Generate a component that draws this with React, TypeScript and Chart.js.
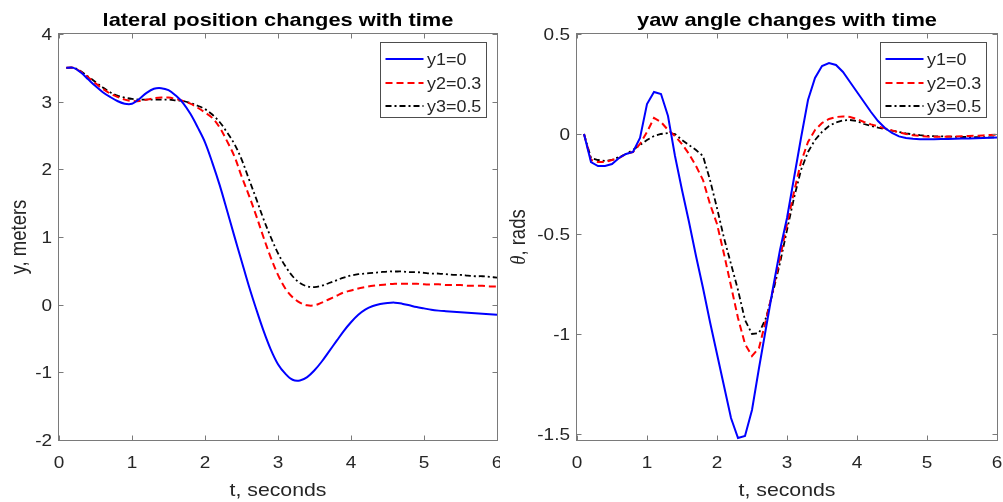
import React, { useEffect, useRef } from "react";
import { Chart, registerables } from "chart.js";

Chart.register(...registerables);

// ---------- data ----------
const timeSeconds = [
  0.1, 0.2, 0.3, 0.4, 0.5, 0.6, 0.7, 0.8, 0.9, 1.0,
  1.1, 1.2, 1.3, 1.4, 1.5, 1.6, 1.7, 1.8, 1.9, 2.0,
  2.1, 2.2, 2.3, 2.4, 2.5, 2.6, 2.7, 2.8, 2.9, 3.0,
  3.1, 3.2, 3.3, 3.4, 3.5, 3.6, 3.7, 3.8, 3.9, 4.0,
  4.1, 4.2, 4.3, 4.4, 4.5, 4.6, 4.7, 4.8, 4.9, 5.0,
  5.1, 5.2, 5.3, 5.4, 5.5, 5.6, 5.7, 5.8, 5.9, 6.0,
];

const lateralY1 = [
  3.50, 3.50, 3.43, 3.33, 3.23, 3.14, 3.07, 3.01, 2.97, 2.97,
  3.04, 3.13, 3.19, 3.20, 3.17, 3.09, 2.98, 2.82, 2.62, 2.40,
  2.10, 1.77, 1.40, 1.02, 0.65, 0.28, -0.06, -0.38, -0.66, -0.88,
  -1.02, -1.11, -1.12, -1.07, -0.97, -0.84, -0.69, -0.54, -0.39, -0.26,
  -0.15, -0.07, -0.02, 0.01, 0.025, 0.03, 0.015, -0.01, -0.035, -0.055,
  -0.075, -0.088, -0.097, -0.105, -0.112, -0.12, -0.127, -0.135, -0.142, -0.15,
];
const lateralY2 = [
  3.50, 3.50, 3.44, 3.36, 3.27, 3.19, 3.12, 3.07, 3.03, 3.01,
  3.01, 3.03, 3.05, 3.06, 3.06, 3.04, 3.01, 2.97, 2.91, 2.84,
  2.76, 2.62, 2.42, 2.20, 1.90, 1.62, 1.32, 1.00, 0.70, 0.44,
  0.24, 0.11, 0.03, -0.01, -0.01, 0.03, 0.08, 0.13, 0.18, 0.21,
  0.24, 0.26, 0.28, 0.29, 0.30, 0.31, 0.31, 0.31, 0.31, 0.30,
  0.30, 0.30, 0.29, 0.29, 0.29, 0.28, 0.28, 0.28, 0.27, 0.27,
];
const lateralY3 = [
  3.50, 3.50, 3.45, 3.37, 3.29, 3.21, 3.14, 3.09, 3.06, 3.04,
  3.03, 3.03, 3.03, 3.03, 3.03, 3.02, 3.01, 2.98, 2.94, 2.89,
  2.81, 2.70, 2.55, 2.38, 2.15, 1.86, 1.57, 1.27, 1.00, 0.76,
  0.57, 0.42, 0.32, 0.27, 0.26, 0.28, 0.32, 0.36, 0.40, 0.43,
  0.45, 0.46, 0.47, 0.48, 0.49, 0.49, 0.49, 0.48, 0.48, 0.47,
  0.46, 0.46, 0.45, 0.44, 0.44, 0.43, 0.42, 0.42, 0.41, 0.40,
];

const yawY1 = [
  0.00, -0.14, -0.16, -0.16, -0.15, -0.12, -0.10, -0.09, -0.02, 0.15,
  0.21, 0.20, 0.09, -0.11, -0.28, -0.44, -0.61, -0.77, -0.94, -1.10,
  -1.26, -1.42, -1.52, -1.51, -1.38, -1.17, -0.97, -0.77, -0.58, -0.42,
  -0.22, -0.02, 0.17, 0.28, 0.34, 0.355, 0.345, 0.31, 0.26, 0.21,
  0.16, 0.11, 0.065, 0.03, 0.005, -0.012, -0.02, -0.024, -0.026, -0.026,
  -0.026, -0.025, -0.025, -0.024, -0.023, -0.022, -0.021, -0.02, -0.019, -0.018,
];
const yawY2 = [
  0.00, -0.13, -0.14, -0.14, -0.13, -0.12, -0.10, -0.09, -0.05, 0.01,
  0.08, 0.06, 0.02, -0.01, -0.05, -0.10, -0.16, -0.23, -0.35, -0.45,
  -0.60, -0.76, -0.92, -1.05, -1.11, -1.07, -0.93, -0.78, -0.62, -0.45,
  -0.29, -0.14, -0.04, 0.02, 0.055, 0.075, 0.085, 0.088, 0.085, 0.075,
  0.06, 0.048, 0.038, 0.028, 0.018, 0.008, 0.0, -0.006, -0.01, -0.013,
  -0.014, -0.014, -0.013, -0.012, -0.011, -0.01, -0.009, -0.007, -0.005, -0.004,
];
const yawY3 = [
  0.00, -0.12, -0.13, -0.135, -0.13, -0.115, -0.10, -0.08, -0.055, -0.03,
  -0.01, 0.00, 0.005, 0.00, -0.03, -0.055, -0.08, -0.11, -0.23, -0.37,
  -0.52, -0.65, -0.78, -0.93, -1.00, -0.995, -0.92, -0.79, -0.645, -0.48,
  -0.32, -0.18, -0.09, -0.03, 0.01, 0.04, 0.058, 0.068, 0.07, 0.065,
  0.05, 0.04, 0.032, 0.025, 0.017, 0.01, 0.003, -0.002, -0.006, -0.009,
  -0.011, -0.012, -0.013, -0.014, -0.015, -0.015, -0.016, -0.016, -0.017, -0.017,
];

const seriesLabels = ["y1=0", "y2=0.3", "y3=0.5"];

// ---------- styling ----------
const SANS = '"Liberation Sans", Arial, Helvetica, sans-serif';
const SERIF = '"Liberation Serif", "Times New Roman", serif';
const SX = 1.15; // horizontal stretch of the reference text
const TEXT_COLOR = "#262626";
const AXIS_COLOR = "#7a7a7a";
const TICK_FONT = `16.5px ${SANS}`;
const LABEL_FONT = `18.5px ${SANS}`;
const TITLE_FONT = `bold 19px ${SANS}`;
const LEGEND_FONT = `15.6px ${SANS}`;

type Part = { text: string; font: string };

function drawParts(
  ctx: CanvasRenderingContext2D,
  parts: Part[],
  x: number,
  y: number,
  align: "left" | "center" | "right",
  color: string,
  rotate = false
) {
  ctx.save();
  ctx.translate(x, y);
  if (rotate) {
    ctx.rotate(-Math.PI / 2);
    ctx.scale(1, SX);
  } else {
    ctx.scale(SX, 1);
  }
  ctx.fillStyle = color;
  ctx.textBaseline = "alphabetic";
  ctx.textAlign = "left";
  const widths = parts.map((p) => {
    ctx.font = p.font;
    return ctx.measureText(p.text).width;
  });
  const total = widths.reduce((a, b) => a + b, 0);
  let cx = align === "left" ? 0 : align === "center" ? -total / 2 : -total;
  parts.forEach((p, i) => {
    ctx.font = p.font;
    ctx.fillText(p.text, cx, 0);
    cx += widths[i];
  });
  ctx.restore();
}

function fmt(v: number) {
  return String(Math.round(v * 100) / 100);
}

const matlabFrame = {
  id: "matlabFrame",
  afterDraw(chart: any, _args: any, opts: any) {
    const ctx: CanvasRenderingContext2D = chart.ctx;
    const a = chart.chartArea;
    const xs = chart.scales.x;
    const ys = chart.scales.y;
    ctx.save();

    // axes box
    ctx.strokeStyle = AXIS_COLOR;
    ctx.lineWidth = 1;
    ctx.setLineDash([]);
    const L = Math.round(a.left) - 0.5;
    const R = Math.round(a.right) + 0.5;
    const T = Math.round(a.top) - 0.5;
    const B = Math.round(a.bottom) + 0.5;
    ctx.strokeRect(L, T, R - L, B - T);

    // inward ticks + labels
    const TL = 5;
    ctx.beginPath();
    xs.ticks.forEach((t: any) => {
      const px = Math.round(xs.getPixelForValue(t.value)) + 0.5;
      ctx.moveTo(px, B);
      ctx.lineTo(px, B - TL);
      ctx.moveTo(px, T);
      ctx.lineTo(px, T + TL);
    });
    ys.ticks.forEach((t: any) => {
      const py = Math.round(ys.getPixelForValue(t.value)) + 0.5;
      ctx.moveTo(L, py);
      ctx.lineTo(L + TL, py);
      ctx.moveTo(R, py);
      ctx.lineTo(R - TL, py);
    });
    ctx.stroke();

    xs.ticks.forEach((t: any) => {
      const px = xs.getPixelForValue(t.value);
      drawParts(ctx, [{ text: fmt(t.value), font: TICK_FONT }], px, a.bottom + 27.5, "center", TEXT_COLOR);
    });
    ys.ticks.forEach((t: any) => {
      const py = ys.getPixelForValue(t.value);
      drawParts(ctx, [{ text: fmt(t.value), font: TICK_FONT }], a.left - 7, py + 5.9, "right", TEXT_COLOR);
    });

    // title
    drawParts(ctx, [{ text: opts.title, font: TITLE_FONT }], (a.left + a.right) / 2, 26, "center", "#000");
    // x label
    drawParts(ctx, [{ text: opts.xLabel, font: LABEL_FONT }], (a.left + a.right) / 2, 496, "center", TEXT_COLOR);
    // y label (rotated)
    drawParts(ctx, opts.yLabel, a.left - opts.yLabelGap, (a.top + a.bottom) / 2, "center", TEXT_COLOR, true);

    // legend
    const bx = Math.round(a.right) - 117 + 0.5;
    const by = 42.5;
    const bw = 106;
    const bh = 75;
    ctx.fillStyle = "#fff";
    ctx.fillRect(bx, by, bw, bh);
    ctx.strokeStyle = "#4d4d4d";
    ctx.lineWidth = 1;
    ctx.strokeRect(bx, by, bw, bh);
    const rows = [59, 83, 106];
    chart.data.datasets.forEach((ds: any, i: number) => {
      ctx.save();
      ctx.strokeStyle = ds.borderColor;
      ctx.lineWidth = ds.borderWidth;
      ctx.setLineDash(ds.borderDash || []);
      ctx.beginPath();
      ctx.moveTo(bx + 5, rows[i]);
      ctx.lineTo(bx + 43, rows[i]);
      ctx.stroke();
      ctx.restore();
      drawParts(ctx, [{ text: ds.label, font: LEGEND_FONT }], bx + 46.5, rows[i] + 5.6, "left", TEXT_COLOR);
    });

    ctx.restore();
  },
};

function buildConfig(p: {
  series: number[][];
  yMin: number;
  yMax: number;
  yStep: number;
  yAxisWidth: number;
  padRight: number;
  tension: number;
  title: string;
  xLabel: string;
  yLabel: Part[];
  yLabelGap: number;
}): any {
  const colors = ["#0000ff", "#ff0000", "#000000"];
  const dashes = [[], [7, 4], [6, 3, 2, 3]];
  return {
    type: "line",
    data: {
      datasets: p.series.map((vals, i) => ({
        label: seriesLabels[i],
        data: timeSeconds.map((t, k) => ({ x: t, y: vals[k] })),
        borderColor: colors[i],
        borderWidth: i === 2 ? 1.8 : 2,
        borderDash: dashes[i],
        pointRadius: 0,
        fill: false,
        tension: p.tension,
      })),
    },
    options: {
      responsive: false,
      maintainAspectRatio: false,
      animation: false,
      events: [],
      layout: { padding: { left: 0, right: p.padRight, top: 34, bottom: 0 } },
      plugins: {
        legend: { display: false },
        tooltip: { enabled: false },
        title: { display: false },
        matlabFrame: { title: p.title, xLabel: p.xLabel, yLabel: p.yLabel, yLabelGap: p.yLabelGap },
      },
      scales: {
        x: {
          type: "linear",
          min: 0,
          max: 6,
          ticks: { stepSize: 1, display: false },
          grid: { display: false },
          border: { display: false },
          afterFit: (s: any) => {
            s.height = 62;
            s.paddingLeft = 0;
            s.paddingRight = 0;
          },
        },
        y: {
          type: "linear",
          min: p.yMin,
          max: p.yMax,
          ticks: { stepSize: p.yStep, display: false, includeBounds: false },
          grid: { display: false },
          border: { display: false },
          afterFit: (s: any) => {
            s.width = p.yAxisWidth;
            s.paddingTop = 0;
            s.paddingBottom = 0;
          },
        },
      },
    },
    plugins: [matlabFrame],
  };
}

export default function App() {
  const leftRef = useRef<HTMLCanvasElement>(null);
  const rightRef = useRef<HTMLCanvasElement>(null);

  useEffect(() => {
    const c1 = new Chart(
      leftRef.current!,
      buildConfig({
        series: [lateralY1, lateralY2, lateralY3],
        yMin: -2,
        yMax: 4,
        yStep: 1,
        yAxisWidth: 59,
        padRight: 3,
        tension: 0.35,
        title: "lateral position changes with time",
        xLabel: "t, seconds",
        yLabel: [{ text: "y, meters", font: LABEL_FONT }],
        yLabelGap: 33,
      })
    );
    const c2 = new Chart(
      rightRef.current!,
      buildConfig({
        series: [yawY1, yawY2, yawY3],
        yMin: -1.53,
        yMax: 0.5,
        yStep: 0.5,
        yAxisWidth: 77,
        padRight: 6,
        tension: 0,
        title: "yaw angle changes with time",
        xLabel: "t, seconds",
        yLabel: [
          { text: "θ", font: `italic 18.5px ${SERIF}` },
          { text: ", rads", font: LABEL_FONT },
        ],
        yLabelGap: 52,
      })
    );
    return () => {
      c1.destroy();
      c2.destroy();
    };
  }, []);

  return (
    <div style={{ position: "absolute", left: 0, top: 0, width: 1003, height: 502, background: "#fff" }}>
      <canvas
        ref={leftRef}
        width={500}
        height={502}
        style={{ position: "absolute", left: 0, top: 0, width: 500, height: 502 }}
      />
      <canvas
        ref={rightRef}
        width={503}
        height={502}
        style={{ position: "absolute", left: 500, top: 0, width: 503, height: 502 }}
      />
    </div>
  );
}
